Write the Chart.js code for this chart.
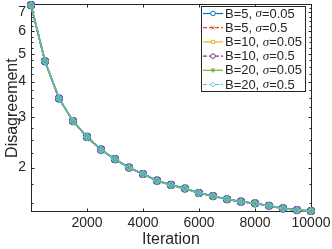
<!DOCTYPE html>
<html><head><meta charset="utf-8">
<script src="https://cdn.jsdelivr.net/npm/chart.js@4.4.1/dist/chart.umd.min.js"></script>
<style>html,body{margin:0;padding:0;background:#fff}#wrap{width:332px;height:249px;position:relative}</style>
</head><body><div id="wrap"><canvas id="c"></canvas></div>
<script>
const iterations = [0,500,1000,1500,2000,2500,3000,3500,4000,4500,5000,5500,6000,6500,7000,7500,8000,8500,9000,9500,10000];
const seriesB5s005  = [7.40,4.71,3.49,2.91,2.56,2.31,2.14,2.00,1.90,1.80,1.74,1.69,1.63,1.59,1.55,1.52,1.50,1.47,1.44,1.42,1.41];
const seriesB5s05   = [7.40,4.71,3.49,2.91,2.56,2.31,2.14,2.00,1.90,1.80,1.74,1.69,1.63,1.59,1.55,1.52,1.50,1.47,1.44,1.42,1.41];
const seriesB10s005 = [7.40,4.71,3.49,2.91,2.56,2.31,2.14,2.00,1.90,1.80,1.74,1.69,1.63,1.59,1.55,1.52,1.50,1.47,1.44,1.42,1.41];
const seriesB10s05  = [7.40,4.71,3.49,2.91,2.56,2.31,2.14,2.00,1.90,1.80,1.74,1.69,1.63,1.59,1.55,1.52,1.50,1.47,1.44,1.42,1.41];
const seriesB20s005 = [7.40,4.71,3.49,2.91,2.56,2.31,2.14,2.00,1.90,1.80,1.74,1.69,1.63,1.59,1.55,1.52,1.50,1.47,1.44,1.42,1.41];
const seriesB20s05  = [7.40,4.71,3.49,2.91,2.56,2.31,2.14,2.00,1.90,1.80,1.74,1.69,1.63,1.59,1.55,1.52,1.50,1.47,1.44,1.42,1.41];
const batchSizes = [5,5,10,10,20,20];
const sigmas = ['0.05','0.5','0.05','0.5','0.05','0.5'];
const xTickValues = [2000,4000,6000,8000,10000];
const yTickValues = [2,3,4,5,6,7];
const yMinorTickValues = [1.5,1.75,2.25,2.5,2.75,3.25,3.5,3.75,4.25,4.5,4.75,5.25,5.5,5.75,6.25,6.5,6.75,7.25];
const xLabel = 'Iteration';
const yLabel = 'Disagreement';

const allSeries = [seriesB5s005, seriesB5s05, seriesB10s005, seriesB10s05, seriesB20s005, seriesB20s05];
const colors = ['#0072BD','#D95319','#EDB120','#7E2F8E','#77AC30','#4DBEEE'];
const pointStyles = ['circle','crossRot','rect','circle','star','rectRot'];
const dashes = [[],[4,2],[],[4,2],[],[4,2]];
const axisColor = '#262626';
const fontFam = "'Liberation Sans', Arial, sans-serif";

const datasets = allSeries.map((s, i) => ({
  label: 'B=' + batchSizes[i] + ', σ=' + sigmas[i],
  data: iterations.map((x, j) => ({x: x, y: s[j]})),
  borderColor: colors[i],
  backgroundColor: colors[i],
  pointBorderColor: colors[i],
  pointBackgroundColor: 'rgba(255,255,255,0)',
  pointStyle: pointStyles[i],
  pointRadius: 3.5,
  pointBorderWidth: 1.2,
  borderWidth: 1.6,
  borderDash: dashes[i],
  tension: 0,
  clip: false,
  order: 5 - i
}));

const frame = {
  id: 'frame',
  beforeDatasetsDraw(chart) {
    const {ctx, chartArea: a, scales} = chart;
    ctx.save();
    ctx.strokeStyle = axisColor;
    ctx.lineWidth = 1;
    const L = Math.round(a.left) + 0.5, R = Math.round(a.right) + 0.5;
    const T = Math.round(a.top) - 0.5, B = Math.round(a.bottom) + 0.5;
    ctx.strokeRect(L, T, R - L, B - T);
    ctx.beginPath();
    xTickValues.forEach(v => {
      const x = Math.round(scales.x.getPixelForValue(v)) + 0.5;
      ctx.moveTo(x, B); ctx.lineTo(x, B - 3);
      ctx.moveTo(x, T); ctx.lineTo(x, T + 3);
    });
    yTickValues.forEach(v => {
      const y = Math.round(scales.y.getPixelForValue(v)) + 0.5;
      ctx.moveTo(L, y); ctx.lineTo(L + 3, y);
      ctx.moveTo(R, y); ctx.lineTo(R - 3, y);
    });
    yMinorTickValues.forEach(v => {
      const y = Math.round(scales.y.getPixelForValue(v)) + 0.5;
      ctx.moveTo(L, y); ctx.lineTo(L + 2, y);
      ctx.moveTo(R, y); ctx.lineTo(R - 2, y);
    });
    ctx.stroke();
    ctx.restore();
  }
};

const legendBox = {
  id: 'legendBox',
  afterDraw(chart) {
    const ctx = chart.ctx;
    const x0 = 201, y0 = 6, w = 104, h = 85;
    ctx.save();
    ctx.fillStyle = '#fff';
    ctx.fillRect(x0, y0, w, h);
    ctx.strokeStyle = axisColor;
    ctx.lineWidth = 1;
    ctx.strokeRect(x0 + 0.5, y0 + 0.5, w, h);
    // fit text so the widest entry spans ~77px
    let fs = 13;
    const widthAt = (size, i) => {
      ctx.font = size + 'px ' + fontFam;
      let wd = ctx.measureText('B=' + batchSizes[i] + ', ').width + ctx.measureText('=' + sigmas[i]).width;
      ctx.font = 'italic ' + size + "px 'Liberation Serif', serif";
      return wd + ctx.measureText('σ').width;
    };
    let maxW = 0;
    batchSizes.forEach((b, i) => { maxW = Math.max(maxW, widthAt(fs, i)); });
    fs = fs * 77 / maxW;
    chart.data.datasets.forEach((ds, i) => {
      const cy = 13.5 + i * 14.2;
      ctx.strokeStyle = ds.borderColor;
      ctx.lineWidth = 1.2;
      ctx.setLineDash(ds.borderDash || []);
      ctx.beginPath(); ctx.moveTo(203, cy); ctx.lineTo(223, cy); ctx.stroke();
      ctx.setLineDash([]);
      ctx.lineWidth = 1;
      ctx.fillStyle = '#fff';
      Chart.helpers.drawPoint(ctx, {pointStyle: ds.pointStyle, radius: 2.3, borderWidth: 1, rotation: 0}, 213, cy);
      ctx.fillStyle = axisColor;
      ctx.textBaseline = 'middle';
      ctx.textAlign = 'left';
      let tx = 225;
      const p1 = 'B=' + batchSizes[i] + ', ';
      ctx.font = fs + 'px ' + fontFam;
      ctx.fillText(p1, tx, cy + 0.5); tx += ctx.measureText(p1).width;
      ctx.font = 'italic ' + fs + "px 'Liberation Serif', serif";
      ctx.fillText('σ', tx, cy + 0.5); tx += ctx.measureText('σ').width;
      ctx.font = fs + 'px ' + fontFam;
      ctx.fillText('=' + sigmas[i], tx, cy + 0.5);
    });
    ctx.restore();
  }
};

new Chart(document.getElementById('c'), {
  type: 'line',
  data: {datasets},
  options: {
    responsive: true,
    maintainAspectRatio: false,
    animation: false,
    layout: {padding: {left: 0, right: 21, top: 1, bottom: 0}},
    plugins: {legend: {display: false}, tooltip: {enabled: false}},
    scales: {
      x: {
        type: 'linear', min: 0, max: 10000,
        grid: {display: false, drawTicks: false},
        border: {display: false},
        afterBuildTicks: s => { s.ticks = xTickValues.map(v => ({value: v})); },
        afterFit: s => { s.height = 38; s.paddingLeft = 0; s.paddingRight = 0; },
        ticks: {color: axisColor, font: {family: fontFam, size: 14}, padding: 4, maxRotation: 0, autoSkip: false,
                callback: v => String(v)},
        title: {display: true, text: xLabel, color: axisColor, font: {family: fontFam, size: 16}, padding: {top: 0, bottom: 0}}
      },
      y: {
        type: 'logarithmic', min: 1.41, max: 7.4,
        grid: {display: false, drawTicks: false},
        border: {display: false},
        afterBuildTicks: s => { s.ticks = yTickValues.map(v => ({value: v})); },
        afterFit: s => { s.width = 31; s.paddingTop = 0; s.paddingBottom = 0; },
        ticks: {color: axisColor, font: {family: fontFam, size: 14}, padding: 5, autoSkip: false,
                callback: v => String(v)},
        title: {display: true, text: yLabel, color: axisColor, font: {family: fontFam, size: 16}, padding: {top: 3, bottom: 0}}
      }
    }
  },
  plugins: [frame, legendBox]
});
</script></body></html>
